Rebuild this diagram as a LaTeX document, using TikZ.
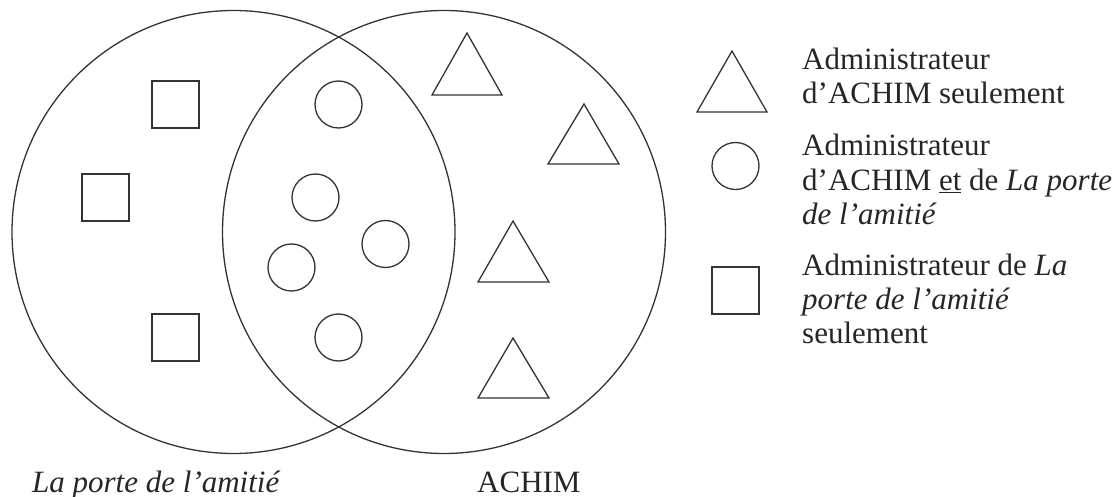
\documentclass[tikz,border=0pt]{standalone}
\usepackage{fontspec}
\setmainfont{Liberation Serif}
\usetikzlibrary{calc}

\begin{document}
\begin{tikzpicture}[x=1pt, y=-1pt,
  set/.style={draw=black!80, line width=1.3pt},
  item/.style={draw=black!80, line width=1.3pt},
  lbl/.style={inner sep=0pt, anchor=base west, text=black!85,
    font=\fontsize{31}{34.5}\selectfont},
  legend/.style={lbl, align=left}]
  \useasboundingbox (0,0) rectangle (1120,497);

  % les deux ensembles, meme rayon, coupes en (338, 37) et (338, 428)
  \coordinate (P) at (233.5, 232);
  \coordinate (A) at (444, 232);
  \draw[set] (P) circle (221.5pt);
  \draw[set] (A) circle (221.5pt);

  % carres : seulement La porte de l'amitie (cote 47)
  \draw[item] (152, 81) rectangle ++(47, 47);
  \draw[item] (82, 174) rectangle ++(47, 47);
  \draw[item] (152, 314) rectangle ++(47, 47);

  % cercles : dans l'intersection (rayon 23.5)
  \draw[item] (338.5, 104.5) circle (23.5pt);
  \draw[item] (315.5, 197.5) circle (23.5pt);
  \draw[item] (385.5, 244) circle (23.5pt);
  \draw[item] (291.5, 267.5) circle (23.5pt);
  \draw[item] (338.5, 337.5) circle (23.5pt);

  % triangles : seulement ACHIM
  \draw[item] (432, 95) -- (467, 33) -- (502, 95) -- cycle;
  \draw[item] (548, 164) -- (584, 104) -- (619, 164) -- cycle;
  \draw[item] (478, 282) -- (513, 221) -- (549, 282) -- cycle;
  \draw[item] (478, 398) -- (513, 338) -- (549, 398) -- cycle;

  % noms des ensembles
  \node[lbl, font=\fontsize{31}{34.5}\selectfont\itshape] (lpa) at (32, 492) {La porte de l’amitié};
  \node[lbl] (achim) at (477, 492) {ACHIM};

  % legende (ancre = ligne de base de la derniere ligne)
  \draw[item] (697, 112) -- (732, 51) -- (767, 112) -- cycle;
  \draw[item] (735.5, 166) circle (23.5pt);
  \draw[item] (712, 267) rectangle ++(47, 47);

  \node[legend] (ltri) at (802, 104) {Administrateur\\d’ACHIM seulement};
  \node[legend] (lcirc) at (802, 225) {Administrateur\\d’ACHIM \underline{et} de \textit{La porte}\\\textit{de l’amitié}};
  \node[legend] (lsq) at (802, 344) {Administrateur de \textit{La}\\\textit{porte de l’amitié}\\seulement};
\end{tikzpicture}
\end{document}
